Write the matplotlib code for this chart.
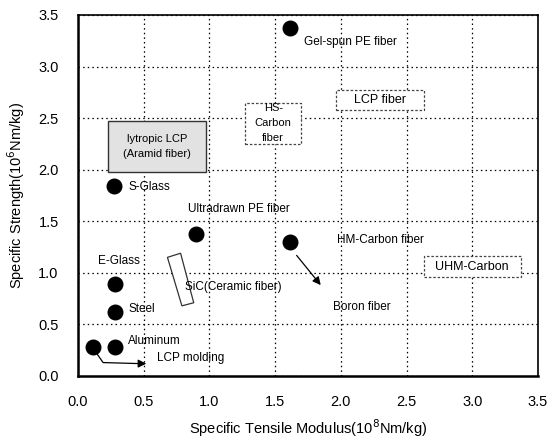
import matplotlib.pyplot as plt
from matplotlib.patches import Rectangle, Polygon

plt.rcParams['font.family'] = ['Liberation Sans', 'DejaVu Sans']

# fibre / material points
point_names = ["Gel-spun PE fiber", "S-Glass", "Ultradrawn PE fiber", "HM-Carbon fiber",
               "E-Glass", "Steel", "Aluminum", "LCP molding"]
point_x = [1.61, 0.27, 0.90, 1.61, 0.28, 0.28, 0.28, 0.11]
point_y = [3.37, 1.84, 1.38, 1.30, 0.89, 0.62, 0.28, 0.28]

# label anchors (left edge, centre)
label_x = [1.72, 0.38, 0.84, 1.97, 0.15, 0.38, 0.38, 0.60]
label_y = [3.24, 1.83, 1.62, 1.32, 1.11, 0.65, 0.34, 0.17]

# extra labels without a point
extra_names = ["SiC(Ceramic fiber)", "Boron fiber"]
extra_x = [0.81, 1.94]
extra_y = [0.86, 0.67]

# region boxes: (x0, y0, x1, y1)
box_names = ["lytropic LCP\n(Aramid fiber)", "HS-\nCarbon\nfiber", "LCP fiber", "UHM-Carbon"]
box_x0 = [0.23, 1.27, 1.96, 2.63]
box_x1 = [0.97, 1.70, 2.63, 3.37]
box_y0 = [1.98, 2.25, 2.58, 0.96]
box_y1 = [2.47, 2.65, 2.77, 1.16]

sic_x = [0.68, 0.78, 0.88, 0.79]
sic_y = [1.15, 1.19, 0.71, 0.68]

fig = plt.figure(figsize=(5.54, 4.4), dpi=100)
ax = fig.add_axes([0.141, 0.1455, 0.83, 0.8205])

ax.set_xlim(0, 3.5)
ax.set_ylim(0, 3.5)
ticks = [0.0, 0.5, 1.0, 1.5, 2.0, 2.5, 3.0, 3.5]
ax.set_xticks(ticks)
ax.set_yticks(ticks)
ax.set_xticklabels([f"{t:.1f}" for t in ticks])
ax.set_yticklabels([f"{t:.1f}" for t in ticks])
ax.tick_params(length=0, labelsize=10.5, pad=14)
ax.grid(True, color='black', linestyle=(0, (1.2, 2.5)), linewidth=0.9)
ax.set_axisbelow(True)

for side in ['left', 'bottom']:
    ax.spines[side].set_linewidth(1.8)
for side in ['top', 'right']:
    ax.spines[side].set_linewidth(1.2)

ax.scatter(point_x, point_y, s=110, color='black', zorder=5)

for name, lx, ly in zip(point_names, label_x, label_y):
    ax.text(lx, ly, name, fontsize=8.5, ha='left', va='center', zorder=6)
for name, lx, ly in zip(extra_names, extra_x, extra_y):
    ax.text(lx, ly, name, fontsize=8.5, ha='left', va='center', zorder=6)

styles = [
    dict(facecolor='#e2e2e2', edgecolor='#333333', linestyle='-', linewidth=1.0),
    dict(facecolor='white', edgecolor='#444444', linestyle=(0, (2, 1.5)), linewidth=0.9),
    dict(facecolor='white', edgecolor='#444444', linestyle=(0, (2, 1.5)), linewidth=0.9),
    dict(facecolor='white', edgecolor='#444444', linestyle=(0, (2, 1.5)), linewidth=0.9),
]
for name, x0, x1, y0, y1, st in zip(box_names, box_x0, box_x1, box_y0, box_y1, styles):
    rect = Rectangle((x0, y0), x1 - x0, y1 - y0, zorder=4, **st)
    ax.add_patch(rect)
    fs = 8 if "\n" in name else 9
    ax.text((x0 + x1) / 2, (y0 + y1) / 2, name, fontsize=fs, ha='center', va='center',
            linespacing=1.6, zorder=6)

ax.add_patch(Polygon(list(zip(sic_x, sic_y)), closed=True, facecolor='white',
                     edgecolor='#333333', linewidth=0.9, zorder=4))

# LCP molding arrow (bent)
ax.plot([0.13, 0.19, 0.47], [0.24, 0.13, 0.12], color='black', linewidth=0.9, zorder=5)
ax.annotate('', xy=(0.54, 0.12), xytext=(0.46, 0.12),
            arrowprops=dict(arrowstyle='-|>', color='black', lw=0.9, mutation_scale=12), zorder=5)

# HM-Carbon -> Boron arrow
ax.annotate('', xy=(1.86, 0.86), xytext=(1.65, 1.19),
            arrowprops=dict(arrowstyle='-|>', color='black', lw=0.9, mutation_scale=12), zorder=5)

ax.set_xlabel("Specific Tensile Modulus(10$^8$Nm/kg)", fontsize=10.5, labelpad=6)
ax.set_ylabel("Specific Strength(10$^6$Nm/kg)", fontsize=10.5, labelpad=8)

fig.savefig("out.png", dpi=100)
